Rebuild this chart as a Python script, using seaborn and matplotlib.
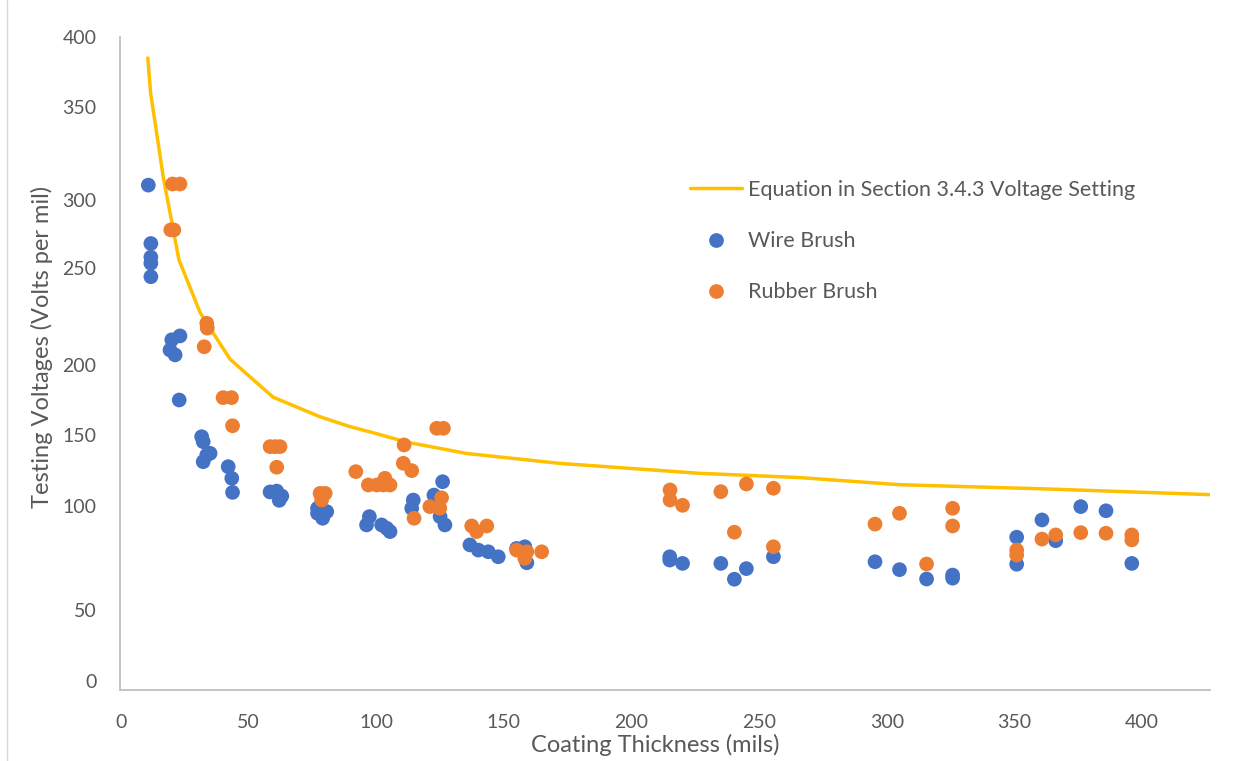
import numpy as np
import pandas as pd
import matplotlib
matplotlib.use("Agg")
import matplotlib.pyplot as plt
from matplotlib.lines import Line2D
import seaborn as sns

# ---------------- data ----------------
CURVE_T = [10.5, 11.6, 16.6, 22.7, 31.0, 42.7, 59.6, 78.0, 89.7, 100.0, 111.9,
           135.4, 172.0, 187.7, 226.8, 266.0, 305.0, 362.7, 426.6]
CURVE_V = [385, 360, 312, 256, 227, 203, 177, 163, 156, 151, 145,
           137, 130, 128, 123, 120, 115, 112, 108]

WIRE_T = [10.7, 11.7, 11.7, 11.7, 11.7, 23.1, 19.9, 19.2, 21.2, 22.8,
          31.6, 32.2, 33.6, 34.9, 32.2, 42.0, 43.4, 43.7,
          58.4, 61.0, 63.0, 62.0, 77.0, 80.6, 79.0, 77.0,
          97.3, 96.2, 102.1, 104.1, 105.4, 114.5, 113.9,
          122.6, 126.0, 125.0, 126.9, 136.7, 140.0, 143.9, 147.8,
          155.0, 158.2, 159.0, 215.0, 215.0, 220.0,
          235.0, 240.3, 245.0, 255.6, 295.4, 305.0, 315.6, 325.8, 325.8,
          350.9, 350.9, 360.8, 366.2, 376.0, 385.9, 396.0]
WIRE_V = [308, 268, 258, 253.5, 245.5, 215, 213, 207.7, 205.2, 175,
          148.8, 145.3, 135.9, 137.1, 131.2, 127.7, 119.5, 109.6,
          109.9, 110.5, 107.0, 104.0, 98.9, 97.3, 94.1, 96.5,
          94.9, 90.9, 90.9, 89.3, 87.7, 104.2, 98.9,
          107.7, 117.1, 94.9, 90.9, 81.3, 78.8, 78.0, 75.6,
          79.6, 80.4, 72.7, 75.6, 74.0, 72.4,
          72.4, 64.8, 69.9, 75.6, 73.2, 69.4, 64.9, 66.8, 65.3,
          85.0, 72.0, 93.3, 83.3, 99.7, 97.7, 72.4]

RUBBER_T = [20.2, 23.1, 19.5, 20.7, 33.6, 33.8, 32.6, 40.0, 43.3, 43.7,
            58.4, 60.4, 62.3, 61.0, 78.0, 80.0, 78.6, 92.0, 96.9, 100.2,
            103.4, 105.4, 102.8, 110.9, 110.6, 113.9, 114.8, 123.7, 126.3,
            125.6, 124.9, 121.0, 137.4, 143.3, 139.3,
            155.0, 159.0, 164.8, 158.2, 215.1, 215.1, 220.0,
            235.0, 240.3, 245.0, 255.6, 255.6, 295.4, 305.0, 315.6,
            325.8, 325.8, 350.9, 350.9, 360.8, 366.2, 376.0, 385.9, 396.0, 396.0]
RUBBER_V = [308.6, 308.6, 278, 278, 221.5, 219, 209.4, 176.7, 176.7, 156.6,
            141.8, 141.8, 141.8, 127.3, 108.9, 108.9, 104.2, 124.2, 114.8, 114.8,
            119.5, 114.8, 114.8, 143.0, 130.1, 124.9, 94.1, 154.8, 154.8,
            105.8, 98.9, 99.7, 90.4, 90.4, 87.7,
            78.8, 78.0, 78.0, 74.8, 111.3, 104.2, 100.5,
            110.1, 87.4, 115.5, 112.5, 80.4, 91.3, 96.5, 72.1,
            98.9, 90.4, 78.8, 76.4, 84.1, 86.1, 87.2, 86.9, 86.1, 83.7]

SERIES = ["Wire Brush", "Rubber Brush"]
CURVE_LABEL = "Equation in Section 3.4.3 Voltage Setting"
X_TICKS = [0, 50, 100, 150, 200, 250, 300, 350, 400]
Y_TICKS = [0, 50, 100, 150, 200, 250, 300, 350, 400]

# ---------------- layout of the reference ----------------
W, H = 1253, 761
# the reference's y tick labels are unevenly spaced: pixel row of each tick
Y_TICK_ROWS = [681, 610, 506, 435, 365, 268, 200, 107, 37]
AX_LEFT, AX_RIGHT, AX_TOP, AX_BOTTOM = 120, 1210, 37, 690
X0_PX, X400_PX = 121, 1142

yv = np.array(Y_TICKS, float)
yr = -np.array(Y_TICK_ROWS, float)
lo_s = (yr[1] - yr[0]) / (yv[1] - yv[0])
hi_s = (yr[-1] - yr[-2]) / (yv[-1] - yv[-2])
YV = np.concatenate([[-1e4], yv, [1e5]])
YR = np.concatenate([[yr[0] + lo_s * (-1e4 - yv[0])], yr, [yr[-1] + hi_s * (1e5 - yv[-1])]])


def fwd(v):
    return np.interp(np.asarray(v, float), YV, YR)


def inv(u):
    return np.interp(np.asarray(u, float), YR, YV)


GREY = "#595959"
BLUE, ORANGE, GOLD = "#4472C4", "#ED7D31", "#FFC000"
FS_TICK = 14
FS_LEG = 15.5
FS_LAB = 17

sns.set_style("white")
plt.rcParams["font.family"] = ["Lato", "DejaVu Sans"]
plt.rcParams["text.color"] = GREY
plt.rcParams["axes.labelcolor"] = GREY
plt.rcParams["xtick.color"] = GREY
plt.rcParams["ytick.color"] = GREY

fig = plt.figure(figsize=(W / 100, H / 100), dpi=100)
ax = fig.add_axes([AX_LEFT / W, 1 - AX_BOTTOM / H, (AX_RIGHT - AX_LEFT) / W, (AX_BOTTOM - AX_TOP) / H])

curve = pd.DataFrame({"t": CURVE_T, "v": CURVE_V})
pts = pd.DataFrame({
    "t": WIRE_T + RUBBER_T,
    "v": WIRE_V + RUBBER_V,
    "series": [SERIES[0]] * len(WIRE_T) + [SERIES[1]] * len(RUBBER_T),
})

sns.lineplot(data=curve, x="t", y="v", color=GOLD, linewidth=2.5, sort=False,
             label=CURVE_LABEL, ax=ax, zorder=2)
sns.scatterplot(data=pts, x="t", y="v", hue="series", hue_order=SERIES,
                palette=[BLUE, ORANGE], s=112, linewidth=0, alpha=1,
                ax=ax, zorder=3)

ax.set_yscale("function", functions=(fwd, inv))
px_per_unit = (X400_PX - X0_PX) / 400.0
ax.set_xlim((AX_LEFT - X0_PX) / px_per_unit, (AX_RIGHT - X0_PX) / px_per_unit)
ax.set_ylim(float(inv(-AX_BOTTOM)), float(inv(-AX_TOP)))
ax.set_xticks(X_TICKS)
ax.set_yticks(Y_TICKS)
ax.tick_params(axis="both", length=0, labelsize=FS_TICK, colors=GREY)
ax.tick_params(axis="x", pad=17)
ax.tick_params(axis="y", pad=17)

for side in ["top", "right"]:
    ax.spines[side].set_visible(False)
for side in ["left", "bottom"]:
    ax.spines[side].set_color("#BFBFBF")
    ax.spines[side].set_linewidth(1.3)

ax.set_xlabel("Coating Thickness (mils)", fontsize=FS_LAB, color=GREY)
ax.set_ylabel("Testing Voltages (Volts per mil)", fontsize=FS_LAB, color=GREY)
ax.xaxis.set_label_coords((655 - AX_LEFT) / (AX_RIGHT - AX_LEFT), -(745 - AX_BOTTOM) / (AX_BOTTOM - AX_TOP))
ax.xaxis.label.set_verticalalignment("center")
ax.yaxis.set_label_coords((42 - AX_LEFT) / (AX_RIGHT - AX_LEFT), (AX_BOTTOM - 347) / (AX_BOTTOM - AX_TOP))
ax.yaxis.label.set_verticalalignment("center")

handles, labels = ax.get_legend_handles_labels()
for h in handles:
    if isinstance(h, Line2D) and h.get_marker() not in (None, "None", ""):
        h.set_markersize(10.6)
        h.set_markeredgewidth(0)
ax.legend(handles, labels, loc="upper left", frameon=False, fontsize=FS_LEG,
          bbox_to_anchor=(690 / W, 1 - 180 / H), bbox_transform=fig.transFigure,
          borderpad=0, borderaxespad=0, handlelength=2.42, handletextpad=0.28,
          labelspacing=1.45)

fig.add_artist(Line2D([7 / W, 7 / W], [0, 1], transform=fig.transFigure,
                      color="#D9D9D9", linewidth=1))

fig.savefig("out.png", dpi=100)
